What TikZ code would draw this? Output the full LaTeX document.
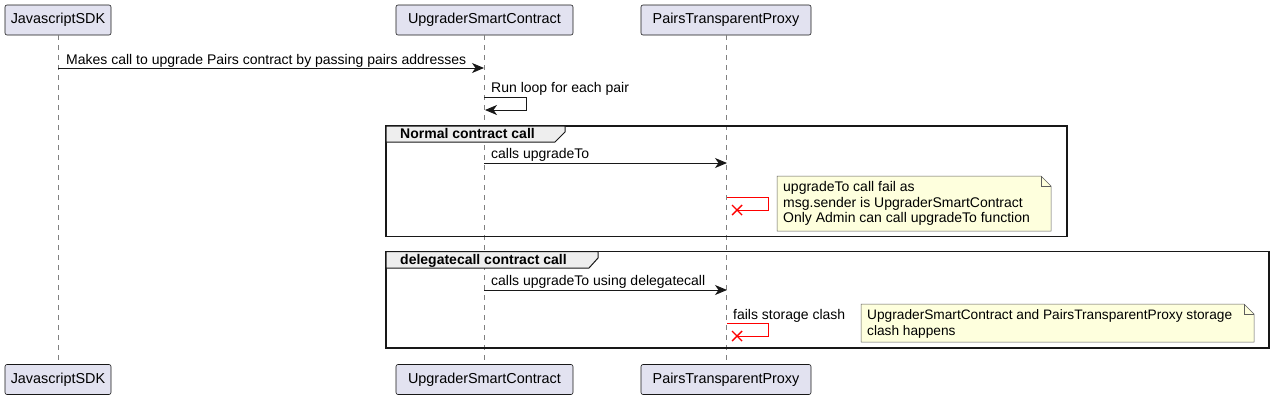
\documentclass[tikz,border=0pt]{standalone}
\usepackage{fontspec}
\setmainfont{Liberation Sans}
\usetikzlibrary{arrows.meta,calc}
\definecolor{partfill}{HTML}{E2E2F0}
\definecolor{partline}{HTML}{181818}
\definecolor{notefill}{HTML}{FEFFDD}
\definecolor{grphead}{HTML}{EEEEEE}
\definecolor{lifegray}{HTML}{808080}
\definecolor{failred}{HTML}{FF0000}
\tikzset{
  part/.style={draw=partline, fill=partfill, rounded corners=2pt, line width=0.6pt,
    minimum height=30pt, inner sep=0pt, font=\fontsize{14.4}{16}\selectfont},
  lifeline/.style={draw=lifegray, dash pattern=on 5pt off 5pt, line width=0.6pt},
  msg/.style={draw=partline, line width=0.9pt, -{Stealth[length=12pt,width=10pt,inset=3.5pt]}},
  failmsg/.style={draw=failred, line width=0.9pt},
  lbl/.style={anchor=base west, inner sep=0pt, font=\fontsize{14}{15}\selectfont},
  grpframe/.style={draw=partline, line width=1.6pt},
  grptab/.style={draw=partline, fill=grphead, line width=1pt},
  grptitle/.style={anchor=base west, inner sep=0pt, font=\bfseries\fontsize{14}{15}\selectfont},
  notebox/.style={draw=partline!70, fill=notefill, line width=0.5pt},
  notetext/.style={anchor=north west, inner sep=0pt, align=left, font=\fontsize{14}{15.5}\selectfont},
}
\begin{document}
\begin{tikzpicture}[x=1pt,y=-1pt]
\useasboundingbox (0,0) rectangle (1274,400);
% participants
\node[part, minimum width=106pt] (jsT) at (58,20) {JavascriptSDK};
\node[part, minimum width=177pt] (upT) at (484.5,20) {UpgraderSmartContract};
\node[part, minimum width=170pt] (ppT) at (726,20) {PairsTransparentProxy};
\node[part, minimum width=106pt] (jsB) at (58,379.5) {JavascriptSDK};
\node[part, minimum width=177pt] (upB) at (484.5,379.5) {UpgraderSmartContract};
\node[part, minimum width=170pt] (ppB) at (726,379.5) {PairsTransparentProxy};
% lifelines
\draw[lifeline] (jsT.south) -- (jsB.north);
\draw[lifeline] (upT.south) -- (upB.north);
\draw[lifeline] (ppT.south) -- (ppB.north);
% message 1
\coordinate (m1a) at (58,68);
\coordinate (m1b) at (484,68);
\draw[msg] (m1a) -- (m1b);
\node[lbl] (m1l) at (66,64) {Makes call to upgrade Pairs contract by passing pairs addresses};
% self loop
\coordinate (s1a) at (484,97);
\coordinate (s1c) at (485,110);
\draw[msg] (s1a) -- (526,97) -- (526,110) -- (s1c);
\node[lbl] (s1l) at (491,92) {Run loop for each pair};
% group 1
\draw[grpframe] (386,126) rectangle (1067,236.5);
\draw[grptab] (386,126) -- (565,126) -- (565,132) -- (555,142) -- (386,142) -- cycle;
\node[grptitle] (g1t) at (400,138.5) {Normal contract call};
\coordinate (m2a) at (484,163);
\coordinate (m2b) at (727,163);
\draw[msg] (m2a) -- (m2b);
\node[lbl] (m2l) at (491,158.5) {calls upgradeTo};
\coordinate (f1a) at (727,197);
\coordinate (f1x) at (737,210);
\draw[failmsg] (f1a) -- (768,197) -- (768,210) -- (f1x);
\draw[failred, line width=1.4pt] ($(f1x)+(-5,-5)$) -- ($(f1x)+(5,5)$) ($(f1x)+(-5,5)$) -- ($(f1x)+(5,-5)$);
\draw[notebox] (777,176) -- (1041,176) -- (1051,186) -- (1051,231) -- (777,231) -- cycle;
\draw[notebox, fill=none] (1041,176) -- (1041,186) -- (1051,186);
\node[notetext] (n1) at (783,181.5) {upgradeTo call fail as\\msg.sender is UpgraderSmartContract\\Only Admin can call upgradeTo function};
% group 2
\draw[grpframe] (386,251.5) rectangle (1269,348);
\draw[grptab] (386,251.5) -- (598,251.5) -- (598,258) -- (589,268) -- (386,268) -- cycle;
\node[grptitle] (g2t) at (400,264.5) {delegatecall contract call};
\coordinate (m3a) at (484,290);
\coordinate (m3b) at (727,290);
\draw[msg] (m3a) -- (m3b);
\node[lbl] (m3l) at (491,285.5) {calls upgradeTo using delegatecall};
\coordinate (f2a) at (727,323);
\coordinate (f2x) at (737,336);
\draw[failmsg] (f2a) -- (768,323) -- (768,336) -- (f2x);
\draw[failred, line width=1.4pt] ($(f2x)+(-5,-5)$) -- ($(f2x)+(5,5)$) ($(f2x)+(-5,5)$) -- ($(f2x)+(5,-5)$);
\node[lbl] (f2l) at (733,319) {fails storage clash};
\draw[notebox] (861,304) -- (1244,304) -- (1254,314) -- (1254,342) -- (861,342) -- cycle;
\draw[notebox, fill=none] (1244,304) -- (1244,314) -- (1254,314);
\node[notetext, font=\fontsize{13.7}{15.5}\selectfont] (n2) at (867,309.5) {UpgraderSmartContract and PairsTransparentProxy storage\\clash happens};
\end{tikzpicture}
\end{document}
